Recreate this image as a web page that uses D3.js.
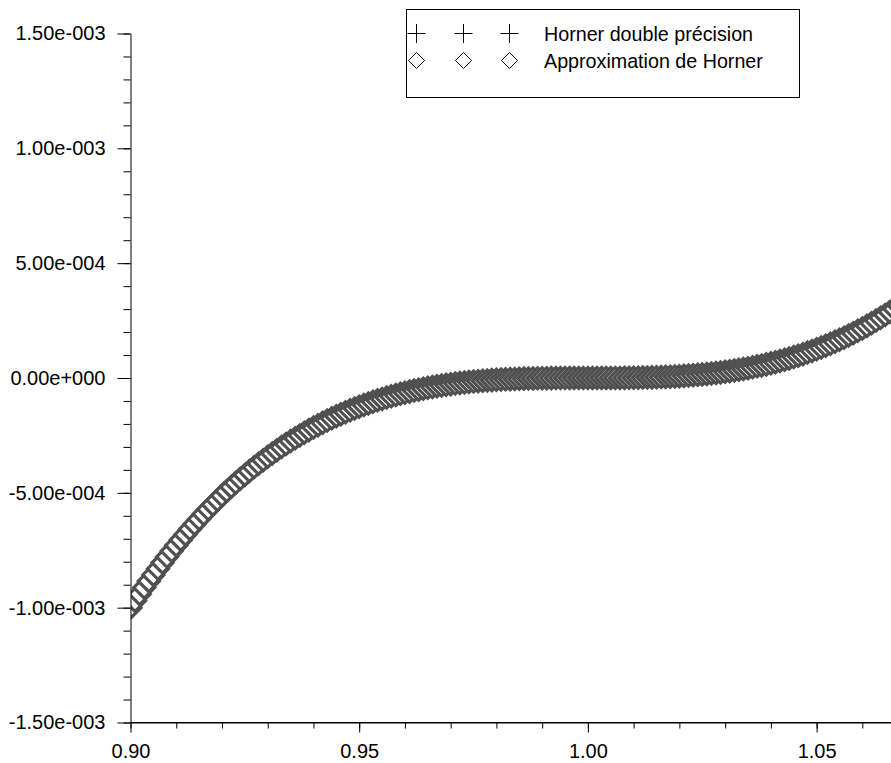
<!DOCTYPE html>
<html>
<head>
  <title>Horner double précision / Approximation de Horner</title>
  <script src="https://d3js.org/d3.v7.min.js"></script>
  <style>
    body { margin: 0; background: white; }
    svg { display: block; }
    text { font-family: "Liberation Sans", Arial, sans-serif; fill: black; }
    .legend-text { font-size: 19.7px; }
  </style>
</head>
<body>
<div id="chart"></div>
<script>
  // sample points (x)
  const xValues = [
    0.900,0.901,0.902,0.903,0.904,0.905,0.906,0.907,0.908,0.909,
    0.910,0.911,0.912,0.913,0.914,0.915,0.916,0.917,0.918,0.919,
    0.920,0.921,0.922,0.923,0.924,0.925,0.926,0.927,0.928,0.929,
    0.930,0.931,0.932,0.933,0.934,0.935,0.936,0.937,0.938,0.939,
    0.940,0.941,0.942,0.943,0.944,0.945,0.946,0.947,0.948,0.949,
    0.950,0.951,0.952,0.953,0.954,0.955,0.956,0.957,0.958,0.959,
    0.960,0.961,0.962,0.963,0.964,0.965,0.966,0.967,0.968,0.969,
    0.970,0.971,0.972,0.973,0.974,0.975,0.976,0.977,0.978,0.979,
    0.980,0.981,0.982,0.983,0.984,0.985,0.986,0.987,0.988,0.989,
    0.990,0.991,0.992,0.993,0.994,0.995,0.996,0.997,0.998,0.999,
    1.000,
    1.001,1.002,1.003,1.004,1.005,1.006,1.007,1.008,1.009,
    1.010,1.011,1.012,1.013,1.014,1.015,1.016,1.017,1.018,1.019,
    1.020,1.021,1.022,1.023,1.024,1.025,1.026,1.027,1.028,1.029,
    1.030,1.031,1.032,1.033,1.034,1.035,1.036,1.037,1.038,1.039,
    1.040,1.041,1.042,1.043,1.044,1.045,1.046,1.047,1.048,1.049,
    1.050,1.051,1.052,1.053,1.054,1.055,1.056,1.057,1.058,1.059,
    1.060,1.061,1.062,1.063,1.064,1.065,1.066,1.067,1.068
  ];

  // polynomial values, in units of 1e-6
  const yDouble = [
    -1000,-970.3,-941.2,-912.7,-884.7,-857.4,-830.6,-804.4,-778.7,-753.6,
    -729,-705,-681.5,-658.5,-636.1,-614.1,-592.7,-571.8,-551.4,-531.4,
    -512,-493,-474.6,-456.5,-439,-421.9,-405.2,-389,-373.2,-357.9,
    -343,-328.5,-314.4,-300.8,-287.5,-274.6,-262.1,-250,-238.3,-227,
    -216,-205.4,-195.1,-185.2,-175.6,-166.4,-157.5,-148.9,-140.6,-132.7,
    -125,-117.6,-110.6,-103.8,-97.3,-91.1,-85.2,-79.5,-74.1,-68.9,
    -64,-59.3,-54.9,-50.7,-46.7,-42.9,-39.3,-35.9,-32.8,-29.8,
    -27,-24.4,-22,-19.7,-17.6,-15.6,-13.8,-12.2,-10.6,-9.3,
    -8,-6.9,-5.8,-4.9,-4.1,-3.4,-2.7,-2.2,-1.7,-1.3,
    -1,-0.7,-0.5,-0.3,-0.2,-0.1,-0.1,0,0,0,
    0,
    0,0,0,0.1,0.1,0.2,0.3,0.5,0.7,
    1,1.3,1.7,2.2,2.7,3.4,4.1,4.9,5.8,6.9,
    8,9.3,10.6,12.2,13.8,15.6,17.6,19.7,22,24.4,
    27,29.8,32.8,35.9,39.3,42.9,46.7,50.7,54.9,59.3,
    64,68.9,74.1,79.5,85.2,91.1,97.3,103.8,110.6,117.6,
    125,132.7,140.6,148.9,157.5,166.4,175.6,185.2,195.1,205.4,
    216,227,238.3,250,262.1,274.6,287.5,300.8,314.4
  ];
  // at this scale both evaluations fall on the same pixels
  const yApprox = yDouble.slice();

  const seriesNames = ["Horner double précision", "Approximation de Horner"];
  const xTicks = [0.90, 0.95, 1.00, 1.05];
  const yTicks = [-1.5e-3, -1.0e-3, -5.0e-4, 0, 5.0e-4, 1.0e-3, 1.5e-3];

  const W = 891, H = 763;

  const svg = d3.select("#chart").append("svg")
    .attr("width", W)
    .attr("height", H);

  const x = d3.scaleLinear().domain([0.90, 1.10]).range([130.5, 1045.3]);
  const y = d3.scaleLinear().domain([-1.5e-3, 1.5e-3]).range([722.5, 33.5]);

  // clip the markers at the left axis
  svg.append("clipPath").attr("id", "plotClip")
    .append("rect")
    .attr("x", 131).attr("y", 0)
    .attr("width", W - 131).attr("height", H);

  const pts = xValues.map((v, i) => ({x: v, d: yDouble[i] * 1e-6, a: yApprox[i] * 1e-6}));

  const R = 10.5; // marker half size
  const plusPath = `M${-R},0H${R}M0,${-R}V${R}`;
  const diamondPath = `M${-R},0L0,${-R}L${R},0L0,${R}Z`;

  const marks = svg.append("g").attr("clip-path", "url(#plotClip)");

  marks.selectAll(".plus")
    .data(pts)
    .join("path")
    .attr("class", "plus")
    .attr("d", plusPath)
    .attr("transform", d => `translate(${x(d.x)},${y(d.d)})`)
    .attr("fill", "none")
    .attr("stroke", "#000")
    .attr("stroke-width", 1);

  marks.selectAll(".diamond")
    .data(pts)
    .join("path")
    .attr("class", "diamond")
    .attr("d", diamondPath)
    .attr("transform", d => `translate(${x(d.x)},${y(d.a)})`)
    .attr("fill", "#fff")
    .attr("stroke", "#505050")
    .attr("stroke-width", 3.2);

  // tick label format like 1.50e-003
  function expFormat(v) {
    const s = v.toExponential(2);
    const parts = s.split("e");
    const sign = parts[1][0];
    return parts[0] + "e" + sign + parts[1].slice(1).padStart(3, "0");
  }

  // y axis: minor then major ticks
  svg.append("g")
    .attr("transform", "translate(130.5,0)")
    .call(d3.axisLeft(y).tickValues(d3.range(-15, 16).map(i => i * 1e-4)).tickSize(7).tickFormat(""))
    .call(g => g.select(".domain").remove());

  svg.append("g")
    .attr("transform", "translate(130.5,0)")
    .call(d3.axisLeft(y).tickValues(yTicks).tickSize(13).tickSizeOuter(0).tickPadding(12).tickFormat(expFormat));

  // x axis
  svg.append("g")
    .attr("transform", "translate(0,722.5)")
    .call(d3.axisBottom(x).tickValues(d3.range(0, 21).map(i => 0.90 + i * 0.01)).tickSize(6).tickFormat(""))
    .call(g => g.select(".domain").remove());

  svg.append("g")
    .attr("transform", "translate(0,722.5)")
    .call(d3.axisBottom(x).tickValues(xTicks).tickSize(10).tickSizeOuter(0).tickPadding(11).tickFormat(d3.format(".2f")));

  // stretch the domain line to the right edge
  svg.append("line")
    .attr("x1", 130.5).attr("x2", W)
    .attr("y1", 722.5).attr("y2", 722.5)
    .attr("stroke", "#000");

  svg.selectAll(".domain, .tick line").attr("stroke", "#000");
  svg.selectAll(".tick text")
    .attr("fill", "#000")
    .style("font-family", "'Liberation Sans', Arial, sans-serif")
    .style("font-size", "20px");

  // legend
  const legend = svg.append("g");
  legend.append("rect")
    .attr("x", 406.5).attr("y", 9.5)
    .attr("width", 393).attr("height", 88)
    .attr("fill", "#fff")
    .attr("stroke", "#000");

  const legendRows = [
    {name: seriesNames[0], cy: 33.5, path: `M-9,0H9M0,-9.5V9.5`, fill: "none"},
    {name: seriesNames[1], cy: 60.5, path: `M-8,0L0,-8L8,0L0,8Z`, fill: "#fff"}
  ];
  const legendMarkX = [416.5, 463.5, 509.5];

  legendRows.forEach(row => {
    legendMarkX.forEach(mx => {
      legend.append("path")
        .attr("d", row.path)
        .attr("transform", `translate(${mx},${row.cy})`)
        .attr("fill", row.fill)
        .attr("stroke", "#000");
    });
    legend.append("text")
      .attr("class", "legend-text")
      .attr("x", 544)
      .attr("y", row.cy + 7)
      .text(row.name);
  });
</script>
</body>
</html>
